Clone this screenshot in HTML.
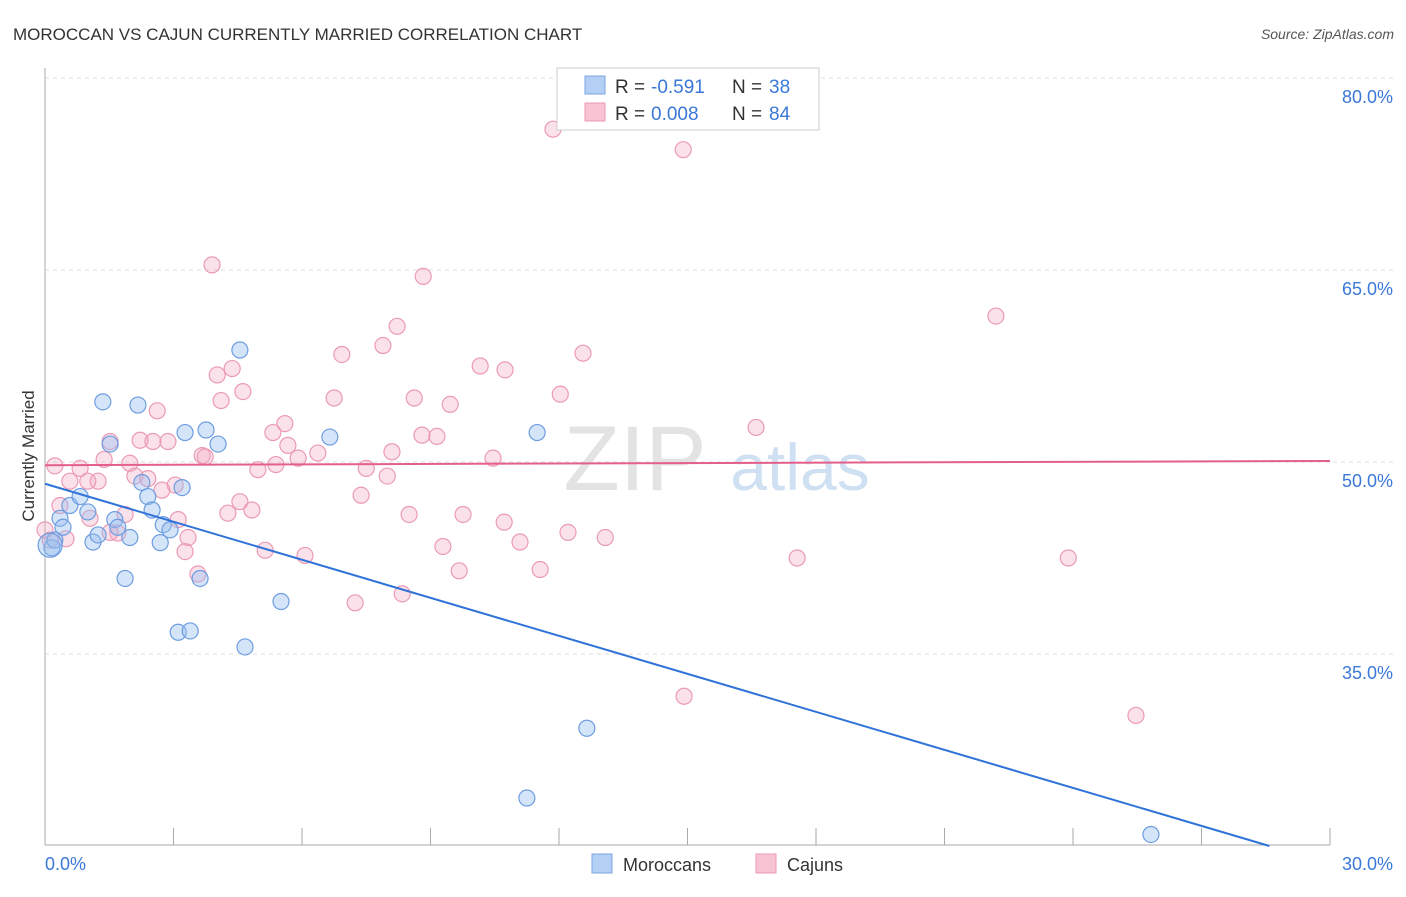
<!DOCTYPE html>
<html><head><meta charset="utf-8"><style>
body{margin:0;background:#fff;font-family:"Liberation Sans",sans-serif}
svg text{font-family:"Liberation Sans",sans-serif}
</style></head><body>
<svg id="c" width="1406" height="892" xmlns="http://www.w3.org/2000/svg">
<text x="13" y="40" font-size="17" fill="#333">MOROCCAN VS CAJUN CURRENTLY MARRIED CORRELATION CHART</text>
<text x="1394" y="39" font-size="14" fill="#555" text-anchor="end" font-style="italic">Source: ZipAtlas.com</text>
<g><text x="635" y="490" font-size="92" fill="#d8d8d8" text-anchor="middle" font-family="Liberation Serif" opacity="0.7">ZIP</text><text x="800" y="490" font-size="66" fill="#bcd3ee" text-anchor="middle" opacity="0.7">atlas</text></g>
<g id="grid"></g><g id="axes"></g><g id="pts"></g><g id="trend"></g>
<text transform="translate(34,456) rotate(-90)" font-size="17" fill="#333" text-anchor="middle">Currently Married</text>
<g>
<rect x="557" y="68" width="262" height="62" fill="#fff" stroke="#ccc"/>
<rect x="585" y="76" width="20" height="18" fill="#b3cff3" stroke="#7aa6e2"/>
<rect x="585" y="103" width="20" height="18" fill="#f8c3d3" stroke="#ec9ab5"/>
<text x="615" y="93" font-size="19" fill="#333">R =</text><text x="651" y="93" font-size="19" fill="#3a78d8">-0.591</text>
<text x="732" y="93" font-size="19" fill="#333">N =</text><text x="769" y="93" font-size="19" fill="#3a78d8">38</text>
<text x="615" y="120" font-size="19" fill="#333">R =</text><text x="651" y="120" font-size="19" fill="#3a78d8">0.008</text>
<text x="732" y="120" font-size="19" fill="#333">N =</text><text x="769" y="120" font-size="19" fill="#3a78d8">84</text>
</g>
<g>
<rect x="592" y="854" width="20" height="19" fill="#b3cff3" stroke="#7aa6e2"/><text x="623" y="871" font-size="18" fill="#333">Moroccans</text>
<rect x="756" y="854" width="20" height="19" fill="#f8c3d3" stroke="#ec9ab5"/><text x="787" y="871" font-size="18" fill="#333">Cajuns</text>
</g>
</svg>
<script>
const yTicks=[35,50,65,80];
const xTickLabels=["0.0%","30.0%"];
const blueX=[0.16,0.23,0.35,0.42,0.58,0.82,1.0,1.12,1.24,1.35,1.52,1.63,1.7,1.87,1.98,2.17,2.26,2.4,2.5,2.69,2.76,2.92,3.11,3.2,3.27,3.39,3.62,3.76,4.04,4.55,4.67,5.51,6.65,11.49,12.65,11.25,25.82,0.12];
const blueY=[43.3,43.9,45.6,44.9,46.6,47.3,46.1,43.75,44.3,54.7,51.4,45.5,44.9,40.9,44.1,54.45,48.4,47.3,46.25,43.7,45.1,44.7,36.7,48.0,52.3,36.8,40.9,52.5,51.4,58.75,35.55,39.1,51.95,52.3,29.2,23.75,20.9,43.5];
const pinkX=[11.86,14.9,3.9,8.83,22.2,8.22,6.93,7.89,12.56,4.37,10.16,10.74,4.02,4.62,4.11,12.03,6.75,8.62,9.46,2.62,16.6,5.6,5.32,8.8,9.15,5.67,1.52,2.22,2.52,2.87,6.37,3.67,3.74,5.91,8.1,10.46,1.38,1.98,0.23,0.82,7.5,4.97,5.39,7.99,2.1,2.4,1.24,0.58,1.0,3.04,2.73,7.38,4.55,4.83,4.27,0.35,8.5,9.76,1.87,1.05,3.11,10.72,12.21,13.08,11.09,1.7,3.34,0.49,5.14,3.27,6.07,9.29,17.56,23.89,9.67,11.56,3.57,7.24,8.34,14.92,25.47,0.12,0,1.52];
const pinkY=[76.0,74.4,65.4,64.5,61.4,60.6,58.4,59.1,58.5,57.3,57.5,57.2,56.8,55.5,54.8,55.3,55.0,55.0,54.5,54.0,52.7,53.0,52.3,52.1,52.0,51.3,51.6,51.7,51.6,51.6,50.7,50.5,50.4,50.3,50.8,50.3,50.2,49.9,49.7,49.5,49.5,49.4,49.8,48.9,48.9,48.7,48.5,48.5,48.5,48.2,47.8,47.4,46.9,46.25,46.0,46.6,45.9,45.9,45.9,45.6,45.5,45.3,44.5,44.1,43.75,44.45,44.1,44.0,43.1,43.0,42.7,43.4,42.5,42.5,41.5,41.6,41.25,39.0,39.7,31.7,30.2,43.9,44.7,44.5];
const blueTrend=[48.3,-0.99];
const pinkTrend=[49.75,0.011];
const X=v=>45+v/30*1285, Y=v=>462-(v-50)*12.8;
const NS="http://www.w3.org/2000/svg";
function mk(t,a,p){const e=document.createElementNS(NS,t);for(const k in a)e.setAttribute(k,a[k]);p.appendChild(e);return e;}
const grid=document.getElementById('grid'),axes=document.getElementById('axes'),pts=document.getElementById('pts'),tr=document.getElementById('trend');
yTicks.forEach(v=>{const l=mk('line',{x1:45,x2:1393,y1:Y(v),y2:Y(v),stroke:'#ddd','stroke-dasharray':'4,4'},grid);


const t=mk('text',{x:1393,y:Y(v)+25,'font-size':18,fill:'#3a78d8','text-anchor':'end'},grid);t.textContent=v.toFixed(1)+'%';

});
mk('line',{x1:45,x2:45,y1:68,y2:845,stroke:'#aaa'},axes);
mk('line',{x1:45,x2:1330,y1:845,y2:845,stroke:'#aaa'},axes);
for(let i=0;i<=10;i++){const x=X(i*3);const l=mk('line',{x1:x,x2:x,y1:828,y2:845,stroke:'#aaa'},axes);

}
[[0,'start'],[30,'end']].forEach((p,i)=>{const t=mk('text',{x:X(p[0])+(i?63:0),y:870,'font-size':18,fill:'#3a78d8','text-anchor':p[1]},axes);t.textContent=xTickLabels[i];

});
pinkX.forEach((x,i)=>{const c=mk('circle',{cx:X(x),cy:Y(pinkY[i]),r:8,fill:'rgba(244,168,195,0.35)',stroke:'#eb9ab6','stroke-width':1.2},pts);

});
blueX.forEach((x,i)=>{const c=mk('circle',{cx:X(x),cy:Y(blueY[i]),r:i==37?12:8,fill:'rgba(150,190,240,0.4)',stroke:'#6d9de0','stroke-width':1.2},pts);

});
const bEnd=(20.0-blueTrend[0])/blueTrend[1];
const bl=mk('line',{x1:X(0),y1:Y(blueTrend[0]),x2:X(bEnd),y2:Y(20.0),stroke:'#2f73d8','stroke-width':2},tr);


const pl=mk('line',{x1:X(0),y1:Y(pinkTrend[0]),x2:X(30),y2:Y(pinkTrend[0]+pinkTrend[1]*30),stroke:'#e4608a','stroke-width':2},tr);


</script>
</body></html>
